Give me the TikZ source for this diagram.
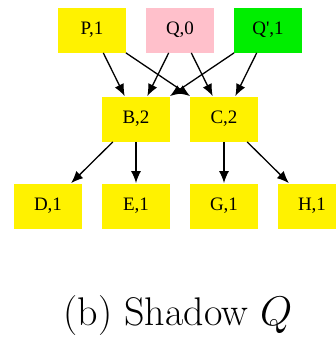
\documentclass[tikz,border=0pt]{standalone}
\usepackage{fontspec}
\newfontfamily\nodefont{Liberation Serif}
\usetikzlibrary{arrows.meta}
\definecolor{shadowpink}{RGB}{255,192,203}
\definecolor{shadowgreen}{RGB}{0,238,0}
\tikzset{
	vbox/.style={fill=yellow, minimum width=34pt, minimum height=22.5pt, inner sep=0pt,
		font=\nodefont\fontsize{9.5}{11}\selectfont},
	edge/.style={-{Latex[length=6pt,width=5pt]}, line width=0.65pt}
}
\begin{document}
\begin{tikzpicture}[x=0.5pt,y=-0.5pt]
		\useasboundingbox (0,0) rectangle (336,339);
		\clip (0,0) rectangle (336,339);
		% 第一层
		\node[vbox] (P) at (92,30) {P,1};
		\node[vbox,fill=shadowpink] (Q) at (180,30) {Q,0};
		\node[vbox,fill=shadowgreen] (Qp) at (268,30) {Q',1};
		% 第二层
		\node[vbox] (B) at (136,119) {B,2};
		\node[vbox] (C) at (224,119) {C,2};
		% 第三层
		\node[vbox] (D) at (48,206) {D,1};
		\node[vbox] (E) at (136,206) {E,1};
		\node[vbox] (G) at (224,206) {G,1};
		\node[vbox] (H) at (312,206) {H,1};
		\foreach \s in {P,Q,Qp}
		\foreach \t in {B,C}
		\draw[edge] (\s)--(\t);
		\draw[edge] (B)--(D);
		\draw[edge] (B)--(E);
		\draw[edge] (C)--(G);
		\draw[edge] (C)--(H);
		\node[font=\fontsize{20}{24}\selectfont] (cap) at (178,316) {(b) Shadow $Q$};
	\end{tikzpicture}
\end{document}
